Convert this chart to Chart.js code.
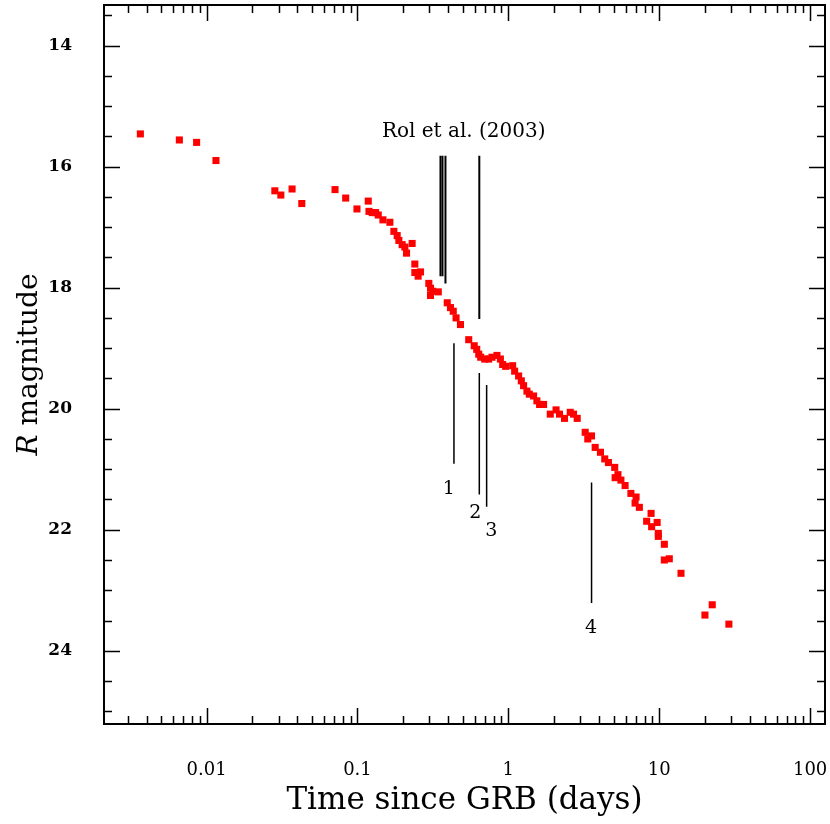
<!DOCTYPE html>
<html>
<head>
<meta charset="utf-8">
<script src="https://cdn.jsdelivr.net/npm/chart.js@4.4.0/dist/chart.umd.min.js"></script>
<style>
  body { margin: 0; background: #fff; }
  canvas { display: block; }
</style>
</head>
<body>
<canvas id="lc" width="830" height="824"></canvas>
<script>
// light curve: time since burst (days) and R magnitude
const times = [0.00364, 0.0066, 0.00859, 0.01154, 0.02834, 0.03105, 0.03687, 0.04276, 0.07101, 0.08356,
  0.09924, 0.1179, 0.1192, 0.1253, 0.1319, 0.1373, 0.1475, 0.164, 0.1743, 0.1833,
  0.1881, 0.1978, 0.2062, 0.2115, 0.2303, 0.24, 0.24, 0.2524, 0.2618, 0.2971,
  0.3049, 0.3049, 0.3157, 0.3433, 0.3936, 0.4134, 0.4314, 0.4502, 0.4815, 0.5462,
  0.5939, 0.6171, 0.6363, 0.6559, 0.697, 0.7407, 0.7788, 0.8406, 0.8855, 0.917,
  0.9597, 1.068, 1.101, 1.17, 1.219, 1.262, 1.328, 1.377, 1.47, 1.546,
  1.611, 1.712, 1.896, 2.071, 2.184, 2.357, 2.571, 2.704, 2.86, 3.231,
  3.361, 3.555, 3.762, 4.077, 4.354, 4.606, 5.07, 5.324, 5.102, 5.572,
  5.939, 6.489, 7.024, 6.917, 7.385, 8.829, 8.255, 8.907, 9.685, 9.863,
  9.863, 10.81, 10.81, 11.66, 13.94, 22.45, 20.09, 28.95];
const mags = [15.46, 15.56, 15.6, 15.9, 16.4, 16.47, 16.37, 16.61, 16.38, 16.52,
  16.7, 16.57, 16.74, 16.76, 16.76, 16.8, 16.88, 16.92, 17.07, 17.14,
  17.22, 17.29, 17.33, 17.43, 17.27, 17.61, 17.75, 17.81, 17.74, 17.93,
  18.01, 18.13, 18.06, 18.07, 18.25, 18.33, 18.39, 18.5, 18.61, 18.86,
  18.96, 19.02, 19.1, 19.15, 19.18, 19.18, 19.15, 19.12, 19.18, 19.27,
  19.3, 19.29, 19.38, 19.46, 19.54, 19.62, 19.71, 19.76, 19.79, 19.87,
  19.93, 19.93, 20.09, 20.02, 20.09, 20.16, 20.06, 20.09, 20.16, 20.39,
  20.5, 20.45, 20.64, 20.72, 20.83, 20.89, 20.97, 21.09, 21.14, 21.18,
  21.27, 21.4, 21.46, 21.56, 21.63, 21.73, 21.86, 21.95, 21.88, 22.06,
  22.11, 22.24, 22.5, 22.48, 22.72, 23.24, 23.41, 23.56];

// Rol et al. (2003) epochs, marked from the top
const rolTimes = [0.355, 0.366, 0.383, 0.642];
const rolTop = [15.82, 15.82, 15.82, 15.82];
const rolBottom = [17.81, 17.81, 17.93, 18.52];
const rolLabel = 'Rol et al. (2003)';
const rolLabelAt = [0.506, 15.42];

// numbered epochs, marked from below
const markTimes = [0.436, 0.642, 0.718, 3.56];
const markTop = [18.92, 19.41, 19.61, 21.22];
const markBottom = [20.91, 21.42, 21.62, 23.21];
const markNames = ['1', '2', '3', '4'];
const markNameX = [0.403, 0.604, 0.77, 3.53];
const markNameY = [21.32, 21.72, 22.03, 23.63];

const xTicks = [0.01, 0.1, 1, 10, 100];
const xTickLabels = ['0.01', '0.1', '1', '10', '100'];
const yTicks = [14, 16, 18, 20, 22, 24];
const xTitle = 'Time since GRB (days)';
const yTitle = ['R', ' magnitude'];

const serif = '"DejaVu Serif", serif';

function lineSet(t, top, bottom, width) {
  return t.map((v, i) => ({
    type: 'line',
    data: [{ x: v, y: top[i] }, { x: v, y: bottom[i] }],
    borderColor: '#000',
    borderWidth: width,
    pointRadius: 0,
    showLine: true
  }));
}

function noPad(s) {
  s.paddingTop = 0; s.paddingBottom = 0; s.paddingLeft = 0; s.paddingRight = 0;
}

// frame, inward ticks on all four sides, extra text
const framePlugin = {
  id: 'frame',
  afterDraw(chart) {
    const ctx = chart.ctx;
    const a = chart.chartArea;
    const xs = chart.scales.x, ys = chart.scales.y;
    ctx.save();
    ctx.strokeStyle = '#000';
    ctx.lineWidth = 2;
    ctx.strokeRect(a.left, a.top, a.right - a.left, a.bottom - a.top);

    ctx.lineWidth = 1.5;
    ctx.beginPath();
    for (let d = 0.001; d <= 100; d *= 10) {
      for (let k = 1; k <= 9; k++) {
        const v = d * k;
        if (v < xs.min || v > xs.max) continue;
        const px = Math.round(xs.getPixelForValue(v)) + 0.5;
        const len = k === 1 ? 16 : 8;
        ctx.moveTo(px, a.bottom); ctx.lineTo(px, a.bottom - len);
        ctx.moveTo(px, a.top); ctx.lineTo(px, a.top + len);
      }
    }
    for (let m = 13.5; m <= 25; m += 0.5) {
      const py = Math.round(ys.getPixelForValue(m)) + 0.5;
      const len = m % 2 === 0 ? 16 : 8;
      ctx.moveTo(a.left, py); ctx.lineTo(a.left + len, py);
      ctx.moveTo(a.right, py); ctx.lineTo(a.right - len, py);
    }
    ctx.stroke();

    ctx.fillStyle = '#000';
    ctx.textAlign = 'center';
    ctx.textBaseline = 'middle';
    ctx.font = '20px ' + serif;
    ctx.fillText(rolLabel, xs.getPixelForValue(rolLabelAt[0]), ys.getPixelForValue(rolLabelAt[1]));
    ctx.font = '19px ' + serif;
    markNames.forEach((n, i) => {
      ctx.fillText(n, xs.getPixelForValue(markNameX[i]), ys.getPixelForValue(markNameY[i]));
    });

    // axis titles
    ctx.font = '31px ' + serif;
    ctx.fillText(xTitle, (a.left + a.right) / 2, 801);
    ctx.translate(30, (a.top + a.bottom) / 2);
    ctx.rotate(-Math.PI / 2);
    ctx.font = 'italic 28px ' + serif;
    const w0 = ctx.measureText(yTitle[0]).width;
    ctx.font = '28px ' + serif;
    const w1 = ctx.measureText(yTitle[1]).width;
    ctx.textAlign = 'left';
    ctx.font = 'italic 28px ' + serif;
    ctx.fillText(yTitle[0], -(w0 + w1) / 2, 0);
    ctx.font = '28px ' + serif;
    ctx.fillText(yTitle[1], -(w0 + w1) / 2 + w0, 0);
    ctx.restore();
  }
};

new Chart(document.getElementById('lc'), {
  type: 'scatter',
  data: {
    datasets: [
      {
        data: times.map((t, i) => ({ x: t, y: mags[i] })),
        backgroundColor: '#ff0000',
        borderWidth: 0,
        pointStyle: 'rect',
        pointRadius: 5
      },
      ...lineSet(rolTimes, rolTop, rolBottom, 2),
      ...lineSet(markTimes, markTop, markBottom, 1.5)
    ]
  },
  options: {
    responsive: false,
    animation: false,
    devicePixelRatio: 1,
    layout: { padding: { left: 0, right: 3, top: 3, bottom: 0 } },
    plugins: { legend: { display: false }, tooltip: { enabled: false } },
    scales: {
      x: {
        type: 'logarithmic',
        min: 0.00209,
        max: 125.5,
        grid: { display: false, drawTicks: false },
        border: { display: false },
        afterBuildTicks: s => { s.ticks = xTicks.map(v => ({ value: v })); },
        afterFit: s => { s.height = 100; noPad(s); },
        ticks: {
          color: '#000',
          font: { family: serif, size: 18 },
          padding: 36,
          maxRotation: 0,
          callback: v => xTickLabels[xTicks.indexOf(v)]
        }
      },
      y: {
        type: 'linear',
        reverse: true,
        min: 13.33,
        max: 25.21,
        grid: { display: false, drawTicks: false },
        border: { display: false },
        afterBuildTicks: s => { s.ticks = yTicks.map(v => ({ value: v })); },
        afterFit: s => { s.width = 104; noPad(s); },
        ticks: {
          color: '#000',
          font: { family: serif, size: 17, weight: 'bold' },
          padding: 32,
          callback: v => String(v)
        }
      }
    }
  },
  plugins: [framePlugin]
});
</script>
</body>
</html>
